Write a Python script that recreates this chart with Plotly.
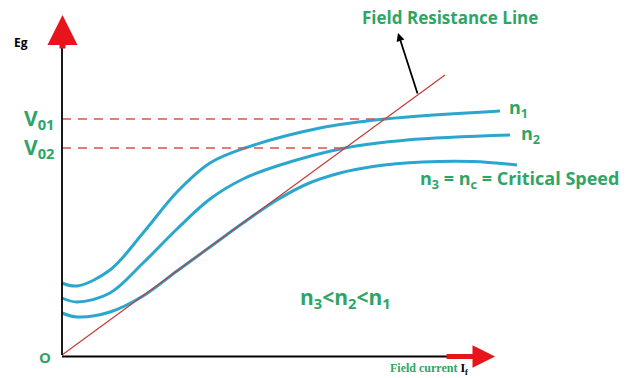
import plotly.graph_objects as go

# Open-circuit characteristics (field current, generated EMF) for three speeds
n1_if = [0, 1.5, 4.8, 8.1, 11.5, 14.8, 18.3, 25.8, 32.3, 43.8]
n1_eg = [7.2, 6.9, 8.5, 12.2, 16.3, 19.2, 20.7, 22.7, 23.6, 24.4]

n2_if = [0, 1.5, 4.8, 8.1, 11.5, 14.8, 18.1, 21.5, 28.3, 34.5, 44.8]
n2_eg = [5.7, 5.3, 6.2, 9.2, 12.6, 15.6, 17.6, 18.9, 20.7, 21.5, 22.0]

n3_if = [0, 1.5, 4.8, 8.1, 11.5, 14.8, 18.1, 21.5, 24.5, 27.8, 31.1, 36.1, 41.1, 45.5]
n3_eg = [4.2, 3.8, 4.3, 5.9, 8.4, 10.8, 13.2, 15.5, 17.1, 18.2, 18.85, 19.3, 19.35, 19.0]

# Field resistance line through the origin
frl_if = [0, 38.3]
frl_eg = [0, 28.0]

# Build-up voltages where the resistance line meets the n1 and n2 curves
v01 = 23.6
v01_if = 32.3
v02 = 20.7
v02_if = 28.3

GREEN = "#2fa565"
BLUE = "#2ba6cf"
RED = "#e8141b"

fig = go.Figure()

for xs, ys in [(n1_if, n1_eg), (n2_if, n2_eg), (n3_if, n3_eg)]:
    fig.add_trace(go.Scatter(x=xs, y=ys, mode="lines",
                             line=dict(color=BLUE, width=3, shape="spline", smoothing=1.0),
                             hoverinfo="skip"))

fig.add_trace(go.Scatter(x=frl_if, y=frl_eg, mode="lines",
                         line=dict(color="#c23b36", width=1.2), hoverinfo="skip"))

for v, xi in [(v01, v01_if), (v02, v02_if)]:
    fig.add_trace(go.Scatter(x=[0, xi], y=[v, v], mode="lines",
                             line=dict(color="#d9534f", width=1.4, dash="9px,7px"),
                             hoverinfo="skip"))

# Axes drawn as plain black lines ending in red arrows
shapes = [
    dict(type="line", x0=0, y0=0, x1=0, y1=30.7, line=dict(color="black", width=1.8)),
    dict(type="line", x0=0, y0=-0.15, x1=38.5, y1=-0.15, line=dict(color="black", width=1.8)),
]

annotations = [
    # red arrow heads of the axes
    dict(x=0.05, y=34.0, ax=0.05, ay=30.5, xref="x", yref="y", axref="x", ayref="y",
         showarrow=True, arrowhead=2, arrowsize=1.0, arrowwidth=6, arrowcolor=RED, text=""),
    dict(x=43.3, y=-0.15, ax=38.3, ay=-0.15, xref="x", yref="y", axref="x", ayref="y",
         showarrow=True, arrowhead=2, arrowsize=0.9, arrowwidth=5, arrowcolor=RED, text=""),
    # pointer to the field resistance line
    dict(x=33.6, y=32.2, ax=35.6, ay=26.0, xref="x", yref="y", axref="x", ayref="y",
         showarrow=True, arrowhead=2, arrowsize=0.9, arrowwidth=1.8, arrowcolor="black", text=""),
    dict(x=38.8, y=33.8, text="<b>Field Resistance Line</b>", showarrow=False,
         font=dict(family="Open Sans", size=17, color=GREEN)),
    dict(x=-4.1, y=31.3, text="<b>Eg</b>", showarrow=False,
         font=dict(family="Open Sans", size=12, color="black")),
    dict(x=-2.3, y=v01, text="<b>V<sub>01</sub></b>", showarrow=False,
         font=dict(family="Open Sans", size=21, color=GREEN)),
    dict(x=-2.3, y=v02, text="<b>V<sub>02</sub></b>", showarrow=False,
         font=dict(family="Open Sans", size=21, color=GREEN)),
    dict(x=-1.7, y=-0.2, text="<b>O</b>", showarrow=False,
         font=dict(family="Open Sans", size=15, color=GREEN)),
    dict(x=44.5, y=24.7, text="<b>n<sub>1</sub></b>", showarrow=False, xanchor="left",
         font=dict(family="Open Sans", size=18, color=GREEN)),
    dict(x=45.7, y=22.1, text="<b>n<sub>2</sub></b>", showarrow=False, xanchor="left",
         font=dict(family="Open Sans", size=18, color=GREEN)),
    dict(x=35.6, y=17.6, text="<b>n<sub>3</sub> = n<sub>c</sub> = Critical Speed</b>",
         showarrow=False, xanchor="left",
         font=dict(family="Open Sans", size=18, color=GREEN)),
    dict(x=23.6, y=5.7, text="<b>n<sub>3</sub>&lt;n<sub>2</sub>&lt;n<sub>1</sub></b>",
         showarrow=False, xanchor="left",
         font=dict(family="Open Sans", size=21, color=GREEN)),
    dict(x=32.6, y=-1.35, text="<b>Field current <span style='color:black'>I<sub>f</sub></span></b>",
         showarrow=False, xanchor="left",
         font=dict(family="Liberation Serif", size=12, color=GREEN)),
]

fig.update_layout(
    width=629, height=378,
    margin=dict(l=0, r=0, t=0, b=0),
    paper_bgcolor="white", plot_bgcolor="white",
    showlegend=False,
    shapes=shapes, annotations=annotations,
    xaxis=dict(range=[-6.2, 56.7], visible=False, fixedrange=True),
    yaxis=dict(range=[-2.3, 35.5], visible=False, fixedrange=True),
)

fig.write_html("out.html")
